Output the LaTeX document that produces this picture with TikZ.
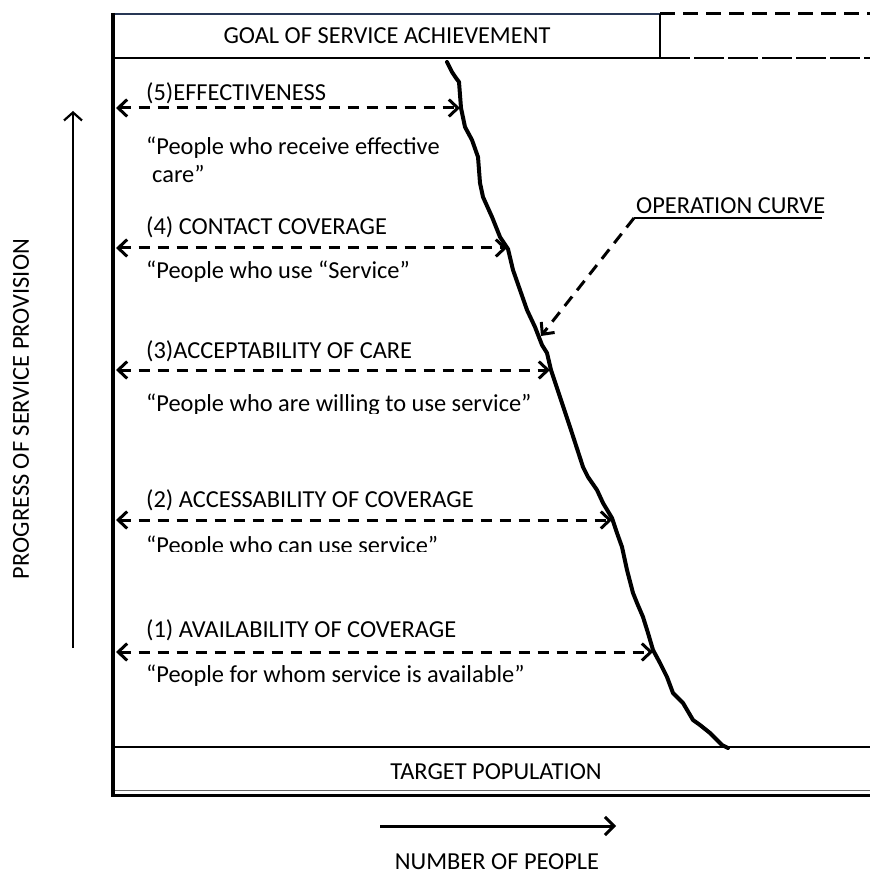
\documentclass[tikz,border=0pt]{standalone}
\usepackage{fontspec}
\setmainfont{Carlito}
\usetikzlibrary{arrows.meta}
\definecolor{boxtop}{RGB}{40,55,85}
\begin{document}
\begin{tikzpicture}[x=1pt,y=-1pt,
  txt/.style={inner sep=0pt,font=\fontsize{24.4}{29}\selectfont},
  lbl/.style={txt,anchor=base west},
  barb/.tip={Straight Barb[length=9pt,width=17pt]},
  dasharrow/.style={line width=3pt,dash pattern=on 11pt off 8pt,barb-barb},
  curve/.style={line width=4pt,line join=round,line cap=round},
]
\useasboundingbox (0,0) rectangle (870,874);

% goal box
\coordinate (gtl) at (113,14);
\coordinate (gtr) at (660,14);
\coordinate (gbr) at (660,58);
\coordinate (gbl) at (113,58);
\coordinate (rtop) at (870,14);
\coordinate (rbot) at (870,58);
\draw[boxtop,line width=2pt] (gtl) -- (gtr);
\draw[line width=1.5pt] (gtr) -- (gbr);
\draw[line width=2.5pt] (gbl) -- (gbr);
\draw[line width=3pt,dash pattern=on 15pt off 8pt] (gtr) -- (rtop);
\draw[line width=2.5pt,dash pattern=on 30pt off 4pt] (gbr) -- (rbot);
\node[txt] (goal) at (387,36) {GOAL OF SERVICE ACHIEVEMENT};

% bottom
\coordinate (tl) at (113,747);
\coordinate (tr) at (870,747);
\draw[line width=1.5pt] (tl) -- (tr);
\coordinate (b1l) at (113,790);
\coordinate (b1r) at (870,790);
\draw[line width=0.8pt,black!60] (b1l) -- (b1r);
\coordinate (b2l) at (111,795.5);
\coordinate (b2r) at (870,795.5);
\draw[line width=3pt] (b2l) -- (b2r);
\node[txt] (target) at (496,772) {TARGET POPULATION};

% left border
\coordinate (lbt) at (113,13);
\coordinate (lbb) at (113,797);
\draw[line width=4pt] (lbt) -- (lbb);

% axes
\coordinate (va0) at (73,648);
\coordinate (va1) at (73,111);
\draw[line width=2.2pt,-{Straight Barb[length=8pt,width=18pt]}] (va0) -- (va1);
\node[txt,rotate=90] (prog) at (21,409) {PROGRESS OF SERVICE PROVISION};
\coordinate (ha0) at (380,826);
\coordinate (ha1) at (616,826);
\draw[line width=3pt,-{Straight Barb[length=9pt,width=18pt]}] (ha0) -- (ha1);
\node[txt] (num) at (497,862) {NUMBER OF PEOPLE};

% operation curve
\draw[curve] (447,62) -- (452,72) -- (456,78) -- (459,82) -- (460,95) -- (461,108)
  -- (465,127) -- (472,140) -- (478,157) -- (480,183) -- (483,197) -- (492,217)
  -- (500,237) -- (508,249) -- (513,270) -- (520,290) -- (527,310) -- (535,327)
  -- (542,345) -- (547,353) -- (551,370) -- (560,397) -- (570,427) -- (583,467)
  -- (588,477) -- (597,490) -- (603,503) -- (612,518) -- (617,533) -- (622,547)
  -- (627,570) -- (633,593) -- (637,603) -- (643,617) -- (648,633) -- (653,650)
  -- (660,663) -- (667,677) -- (673,693) -- (683,703) -- (693,720) -- (700,725)
  -- (710,733) -- (722,745) -- (728,748);

\coordinate (c5) at (460,108);
\coordinate (c4) at (507,248);
\coordinate (c3) at (550,370);
\coordinate (c2) at (612,520);
\coordinate (c1) at (653,652);
\coordinate (l5) at (116,108);
\coordinate (l4) at (116,248);
\coordinate (l3) at (116,370);
\coordinate (l2) at (116,520);
\coordinate (l1) at (116,652);
\draw[dasharrow] (l5) -- (c5);
\draw[dasharrow] (l4) -- (c4);
\draw[dasharrow] (l3) -- (c3);
\draw[dasharrow] (l2) -- (c2);
\draw[dasharrow] (l1) -- (c1);

% labels
\node[lbl] (t5) at (146,101) {(5)EFFECTIVENESS};
\node[lbl] (q5a) at (146,155) {“People who receive effective};
\node[lbl] (q5b) at (152,183) {care”};
\node[lbl] (t4) at (146,235) {(4) CONTACT COVERAGE};
\node[lbl] (q4) at (146,278) {“People who use “Service”};
\node[lbl] (t3) at (146,358) {(3)ACCEPTABILITY OF CARE};
\begin{scope}
\clip (130,380) rectangle (620,413);
\node[lbl] (q3) at (146,411) {“People who are willing to use service”};
\end{scope}
\node[lbl] (t2) at (146,507) {(2) ACCESSABILITY OF COVERAGE};
\begin{scope}
\clip (130,525) rectangle (620,551.5);
\node[lbl] (q2) at (146,553) {“People who can use service”};
\end{scope}
\node[lbl] (t1) at (146,637) {(1) AVAILABILITY OF COVERAGE};
\node[lbl] (q1) at (146,682) {“People for whom service is available”};

% operation curve label
\node[lbl] (op) at (636,214) {OPERATION CURVE};
\coordinate (opl) at (634,218);
\coordinate (opr) at (822,218);
\draw[line width=2pt] (opl) -- (opr);
\coordinate (opt) at (541,336);
\draw[line width=3pt,dash pattern=on 12pt off 8pt,-{Straight Barb[length=9pt,width=17pt]}] (opl) -- (opt);
\end{tikzpicture}
\end{document}
